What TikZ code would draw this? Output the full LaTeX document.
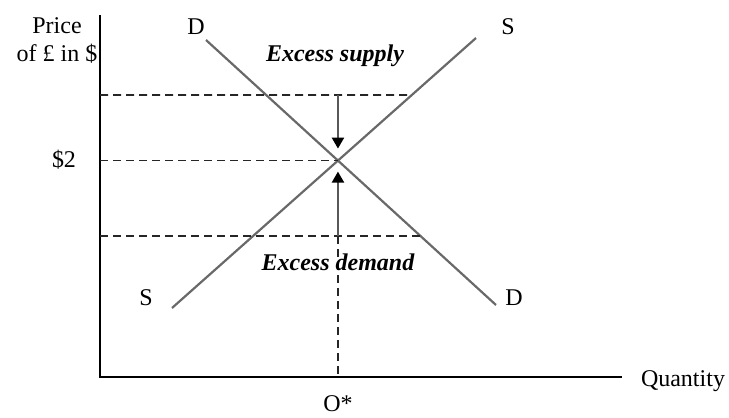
\documentclass[tikz,border=0pt]{standalone}
\usepackage{fontspec}
\setmainfont{Liberation Serif}
\usetikzlibrary{arrows.meta, positioning, calc}
\definecolor{curvagris}{RGB}{105,105,105}

\begin{document}
\begin{tikzpicture}[
  x=0.5pt, y=-0.5pt,
  eje/.style={draw=black, line width=1.4pt},
  curva/.style={draw=curvagris, line width=1.1pt},
  guia/.style={draw=black!85, line width=0.9pt, dash pattern=on 4pt off 2.5pt},
  flecha/.style={draw=gray!70!black, line width=1.1pt,
    -{Triangle[length=5.5pt, width=6pt, color=black]}},
  etiqueta/.style={font=\fontsize{12}{14}\selectfont, inner sep=0pt},
  exceso/.style={font=\fontsize{12}{14}\selectfont\bfseries\itshape, inner sep=0pt}
]

\useasboundingbox (0,0) rectangle (729,418);

% ── EJES ─────────────────────────────────────────────────────

\coordinate (origen) at (100,377);
\coordinate (ytope)  at (100,15);
\coordinate (xfin)   at (622,377);

\draw[eje] (ytope) -- (origen) -- (xfin);

% ── CURVAS ───────────────────────────────────────────────────

\coordinate (d1) at (206,40);
\coordinate (d2) at (496,305);
\coordinate (s1) at (172,308);
\coordinate (s2) at (476,38);
\coordinate (eq) at (intersection of d1--d2 and s1--s2);

\draw[curva] (d1) -- (d2);
\draw[curva] (s1) -- (s2);

% ── LINEAS GUIA ──────────────────────────────────────────────

\coordinate (alto0) at (100,95);
\coordinate (alto1) at (600,95);
\coordinate (bajo0) at (100,236);
\coordinate (bajo1) at (600,236);
\coordinate (altoS) at (intersection of s1--s2 and alto0--alto1);
\coordinate (bajoD) at (intersection of d1--d2 and bajo0--bajo1);

\draw[guia] (alto0) -- (altoS);
\draw[guia] (origen |- eq) -- (eq);
\draw[guia] (bajo0) -- (bajoD);
\draw[guia] (eq |- bajo0) -- (eq |- origen);

% exceso de oferta / demanda
\draw[flecha] (eq |- alto0) -- ($(eq)+(0,-12)$);
\draw[flecha] (eq |- bajo0) -- ($(eq)+(0,11)$);

% ── ETIQUETAS ────────────────────────────────────────────────

\node[etiqueta, align=center] (precio) at (57,40) {Price\\of £ in \$};
\node[etiqueta] (dos)      at (64,160)  {\$2};
\node[etiqueta] (dArriba)  at (196,27)  {D};
\node[etiqueta] (sArriba)  at (508,27)  {S};
\node[etiqueta] (sAbajo)   at (146,298) {S};
\node[etiqueta] (dAbajo)   at (514,298) {D};
\node[exceso]   (oferta)   at (335,56)  {Excess supply};
\node[exceso]   (demanda)  at (338,262) {Excess demand};
\node[etiqueta] (cantidad) at (683,381) {Quantity};
\node[etiqueta] (qEq)      at (338,404) {O*};

\end{tikzpicture}
\end{document}
